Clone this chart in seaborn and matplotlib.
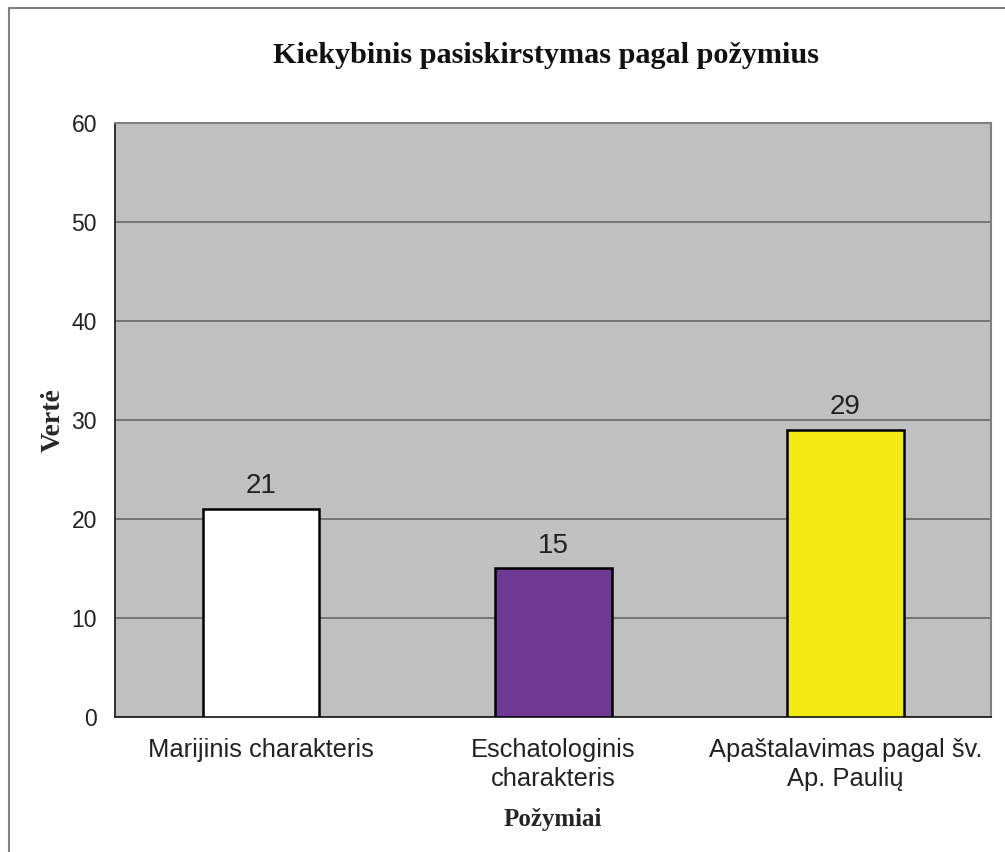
import matplotlib
matplotlib.use("Agg")
import matplotlib.pyplot as plt
from matplotlib.lines import Line2D
import seaborn as sns
import pandas as pd

categories = ["Marijinis charakteris", "Eschatologinis\ncharakteris", "Apaštalavimas pagal šv.\nAp. Paulių"]
values = [21, 15, 29]
bar_colors = ["#FFFFFF", "#6F3A94", "#F2EA10"]

df = pd.DataFrame({"Požymiai": categories, "Vertė": values})

sns.set_style("white")
plt.rcParams["font.family"] = ["Liberation Sans", "DejaVu Sans"]
serif = ["Liberation Serif", "DejaVu Serif"]

fig = plt.figure(figsize=(10.05, 8.52), dpi=100)
ax = fig.add_axes([0.1144, 0.1585, 0.872, 0.697])

sns.barplot(data=df, x="Požymiai", y="Vertė", hue="Požymiai", palette=bar_colors,
            saturation=1, width=0.4, edgecolor="black", linewidth=1.8, legend=False,
            ax=ax, zorder=3)

ax.set_facecolor("#C0C0C0")
ax.set_ylim(0, 60)
ax.set_xlim(-0.5, 2.5)
ax.set_yticks(range(0, 61, 10))
ax.yaxis.grid(True, color="#606060", linewidth=1.1, zorder=0)
ax.set_axisbelow(True)

for c in ax.containers:
    ax.bar_label(c, fontsize=20, padding=7, color="#222222")

for side in ["top", "right"]:
    ax.spines[side].set_color("#808080")
    ax.spines[side].set_linewidth(1.5)
ax.spines["left"].set_color("#222222")
ax.spines["bottom"].set_color("#222222")
ax.spines["left"].set_linewidth(1.3)
ax.spines["bottom"].set_linewidth(1.3)

ax.tick_params(axis="y", which="major", direction="out", length=5, width=1, color="#808080",
               labelsize=16.5, labelcolor="#222222", pad=8)
ax.tick_params(axis="x", which="major", length=0, labelsize=18.4, labelcolor="#222222", pad=15)
ax.set_xticks([-0.5, 0.5, 1.5, 2.5], minor=True)
ax.tick_params(axis="x", which="minor", direction="out", length=6, width=1, color="#808080")
for lbl in ax.get_xticklabels():
    lbl.set_linespacing(1.3)

ax.set_xlabel("Požymiai", fontsize=18, fontweight="bold", family=serif, labelpad=12)
ax.set_ylabel("Vertė", fontsize=20, fontweight="bold", family=serif, labelpad=4)
fig.text(0.5435, 1 - 63 / 852, "Kiekybinis pasiskirstymas pagal požymius", fontsize=21.8,
         fontweight="bold", family=serif, ha="center", va="baseline", color="#111111")

# outer frame: only top and left edges visible
fig.lines.append(Line2D([9 / 1005, 9 / 1005, 1], [0, 1 - 8 / 852, 1 - 8 / 852],
                        transform=fig.transFigure, color="#808080", linewidth=1.5))

fig.savefig("out.png", dpi=100)
